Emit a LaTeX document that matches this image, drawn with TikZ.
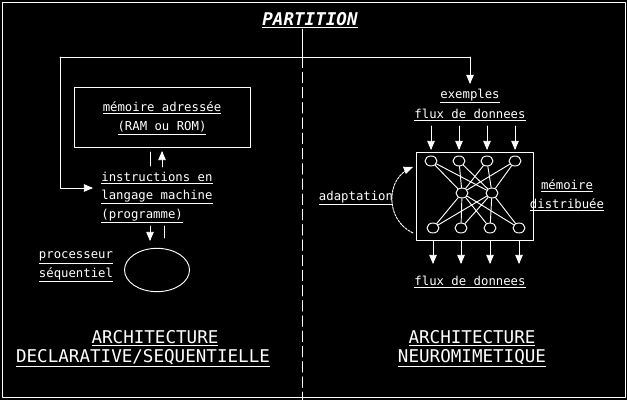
\documentclass[tikz,border=0pt]{standalone}
\usepackage{fontspec}
\setmonofont{DejaVu Sans Mono}
\usetikzlibrary{arrows,positioning}
\tikzset{
  txt/.style={text=white,font=\ttfamily\fontsize{10.5}{12}\selectfont,inner sep=1pt},
  big/.style={text=white,font=\ttfamily\fontsize{15}{17}\selectfont,inner sep=1pt},
  neuron/.style={draw=white,line width=0.8pt,ellipse,minimum width=0.36cm,minimum height=0.3cm,inner sep=0pt},
  wire/.style={draw=white,line width=0.8pt},
  flow/.style={draw=white,line width=0.8pt,->,>=triangle 45}
}
\usetikzlibrary{shapes.geometric}
\newcommand{\ul}[1]{\underline{#1}}
\begin{document}
\begin{tikzpicture}[x=0.03cm,y=-0.03cm,line cap=round,line join=round]
			\fill[black] (0,0) rectangle (627,400);
			\useasboundingbox (0,0) rectangle (627,400);
			\draw[wire] (2,2) rectangle (625,397);
			% title and partition
			\node[big,font=\ttfamily\bfseries\itshape\fontsize{15}{17}\selectfont] (title) at (310,20) {\ul{PARTITION}};
			\coordinate (top) at (302,57);
			\draw[wire] (title.south -| top) -- (top);
			\draw[wire,dash pattern=on 9pt off 4pt] (top) -- (302,400);
			% left side
			\draw[wire] (74,87) rectangle (250,147);
			\node[txt] (mem) at (162,108) {\ul{mémoire adressée}};
			\node[txt] (ram) at (162,128) {\ul{(RAM ou ROM)}};
			\node[txt,anchor=west] (ins1) at (100,178) {\ul{instructions en}};
			\node[txt,anchor=west] (ins2) at (100,197) {\ul{langage machine}};
			\node[txt,anchor=west] (ins3) at (100,216) {\ul{(programme)}};
			\draw[wire] (150,152) -- (150,166);
			\draw[flow] (162,167) -- (162,151);
			\draw[flow] (150,226) -- (150,241);
			\draw[wire] (164,226) -- (164,238);
			\node[draw=white,line width=0.8pt,ellipse,minimum height=1.3cm,minimum width=1.95cm] (cpu) at (157,270) {};
			\node[txt] (proc1) at (76,258) {\ul{processeur}};
			\node[txt] (proc2) at (76,275) {\ul{séquentiel}};
			\node[big] (archL) at (155,338) {\ul{ARCHITECTURE}};
			\node[big] (declL) at (143,358) {\ul{DECLARATIVE/SEQUENTIELLE}};
			% feeding line
			\draw[wire] (60,57) -- (470,57);
			\draw[flow] (60,57) -- (60,188) -- (93,188);
			\draw[flow] (470,57) -- (470,84);
			% right side
			\node[txt] (ex) at (470,96) {\ul{exemples}};
			\node[txt] (fin) at (470,115) {\ul{flux de donnees}};
			\draw[wire] (416,152) rectangle (533,240);
			\foreach \x [count=\i] in {431,459,487,515} {
				\node[neuron] (t\i) at (\x,161) {};
				\draw[flow] (\x,126) -- (\x,150);
			}
			\foreach \x [count=\i] in {433,461,490,519} {
				\node[neuron] (b\i) at (\x,228) {};
				\draw[flow] (\x,241) -- (\x,264);
			}
			\node[neuron] (m1) at (462,193) {};
			\node[neuron] (m2) at (492,193) {};
			\foreach \i in {1,...,4} {
				\draw[wire] (t\i) -- (m1);
				\draw[wire] (t\i) -- (m2);
				\draw[wire] (m1) -- (b\i);
				\draw[wire] (m2) -- (b\i);
			}
			\node[txt] (fout) at (470,282) {\ul{flux de donnees}};
			\node[txt] (adapt) at (356,198) {\ul{adaptation}};
			\draw[flow,dash pattern=on 2pt off 1pt] (413,233) .. controls (385,220) and (385,178) .. (413,167);
			\node[txt] (dist1) at (567,186) {\ul{mémoire}};
			\node[txt] (dist2) at (567,205) {\ul{distribuée}};
			\node[big] (archR) at (472,338) {\ul{ARCHITECTURE}};
			\node[big] (neurR) at (472,358) {\ul{NEUROMIMETIQUE}};
		\end{tikzpicture}
\end{document}
